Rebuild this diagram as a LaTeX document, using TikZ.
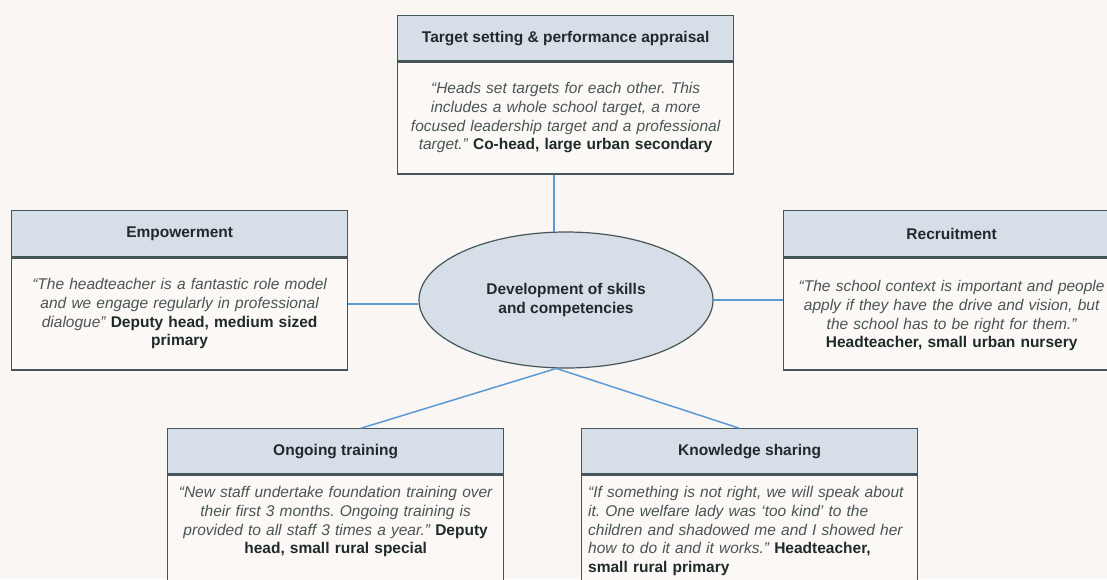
\documentclass[tikz,border=0pt]{standalone}
\usepackage{fontspec}
\setmainfont{Liberation Sans}
\usepackage{xcolor}
\usepackage{tikz}
\usetikzlibrary{shapes,positioning,calc}
\frenchspacing

\definecolor{paper}{HTML}{F9F6F3}
\definecolor{bodyfill}{HTML}{FBF8F5}
\definecolor{headfill}{HTML}{D6DFE8}
\definecolor{frame}{HTML}{46555A}
\definecolor{linkblue}{HTML}{5B9BD5}
\definecolor{quotegrey}{HTML}{4A5555}
\definecolor{ink}{HTML}{1F2A2B}

\newcommand{\who}[1]{\textbf{\upshape\color{ink}#1}}

\begin{document}
\begin{tikzpicture}[x=1pt,y=-1pt,
    hdr/.style={draw=frame, line width=1.3pt, fill=headfill, minimum width=336pt, minimum height=45pt,
        inner sep=0pt, font=\fontsize{15.5}{18}\selectfont\bfseries, text=ink},
    bodybox/.style={draw=frame, line width=1.3pt, fill=bodyfill, minimum width=336pt, inner sep=0pt},
    quote/.style={inner sep=0pt, text width=336pt, align=center,
        font=\fontsize{15.5}{18.7}\selectfont\itshape, text=quotegrey},
    hub/.style={ellipse, draw=frame, line width=1.2pt, fill=headfill, minimum width=294pt,
        minimum height=136pt, align=center, font=\fontsize{15.5}{19.5}\selectfont\bfseries, text=ink},
    link/.style={draw=linkblue, line width=1.5pt}]

    \clip (0,0) rectangle (1107,579);
    \fill[paper] (0,0) rectangle (1107,579);

    % Target setting
    \node[hdr, anchor=north west] (tgtH) at (397,15) {Target setting \& performance appraisal};
    \node[bodybox, minimum height=112pt, anchor=north] (tgtB) at (tgtH.south) {};
    \node[quote, anchor=north] (tgtQ) at ([yshift=-21pt]tgtB.north)
        {“Heads set targets for each other. This\\
         includes a whole school target, a more\\
         focused leadership target and a professional\\
         target.” \who{Co-head, large urban secondary}};

    % Empowerment
    \node[hdr, minimum height=46pt, anchor=north west] (empH) at (11,210) {Empowerment};
    \node[bodybox, minimum height=112pt, anchor=north] (empB) at (empH.south) {};
    \node[quote, anchor=north] (empQ) at ([yshift=-21pt]empB.north)
        {“The headteacher is a fantastic role model\\
         and we engage regularly in professional\\
         dialogue” \who{Deputy head, medium sized}\\
         \who{primary}};

    % Recruitment
    \node[hdr, minimum height=46pt, anchor=north west] (recH) at (783,210) {Recruitment};
    \node[bodybox, minimum height=112pt, anchor=north] (recB) at (recH.south) {};
    \node[quote, anchor=north] (recQ) at ([yshift=-23pt]recB.north)
        {“The school context is important and people\\
         apply if they have the drive and vision, but\\
         the school has to be right for them.”\\
         \who{Headteacher, small urban nursery}};

    % Ongoing training
    \node[hdr, anchor=north west] (otH) at (167,428) {Ongoing training};
    \node[bodybox, minimum height=130pt, anchor=north] (otB) at (otH.south) {};
    \node[quote, anchor=north] (otQ) at ([yshift=-12pt]otB.north)
        {“New staff undertake foundation training over\\
         their first 3 months. Ongoing training is\\
         provided to all staff 3 times a year.” \who{Deputy}\\
         \who{head, small rural special}};

    % Knowledge sharing
    \node[hdr, anchor=north west] (ksH) at (581,428) {Knowledge sharing};
    \node[bodybox, minimum height=130pt, anchor=north] (ksB) at (ksH.south) {};
    \node[quote, align=left, anchor=north west] (ksQ) at ([xshift=7pt,yshift=-12pt]ksB.north west)
        {“If something is not right, we will speak about\\
         it. One welfare lady was ‘too kind’ to the\\
         children and shadowed me and I showed her\\
         how to do it and it works.” \who{Headteacher,}\\
         \who{small rural primary}};

    % Centre
    \node[hub] (dev) at (566,300) {Development of skills\\and competencies};

    % Links
    \draw[link] (tgtB.south -| dev.100) -- (dev.100);
    \draw[link] ([yshift=-4pt]dev.west) -- ([yshift=-4pt]dev.west -| empB.east);
    \draw[link] (dev.east) -- (dev.east -| recB.west);
    \draw[link] (dev.262) -- ([xshift=26pt]otH.north);
    \draw[link] (dev.262) -- ([xshift=-11pt]ksH.north);

\end{tikzpicture}
\end{document}
